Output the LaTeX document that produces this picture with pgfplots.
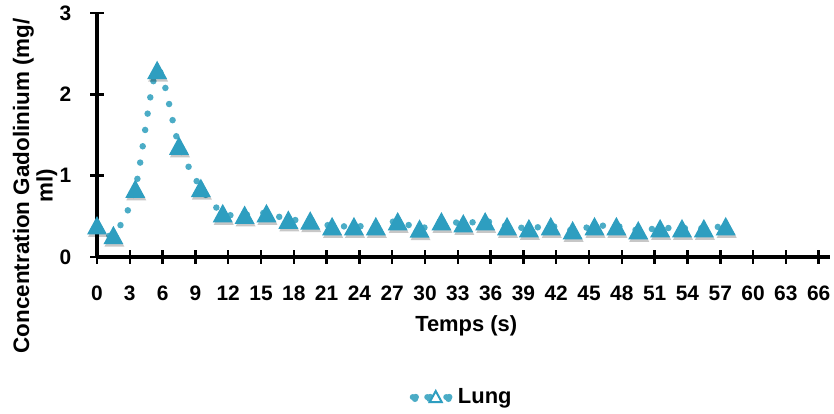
\documentclass[border=0pt]{standalone}
\usepackage{pgfplots}
\pgfplotsset{compat=1.18}
\usepackage{fontspec}
\setmainfont{Liberation Sans}
\definecolor{lungline}{RGB}{75,172,198}
\definecolor{lungmark}{RGB}{46,158,192}
\pgfdeclareplotmark{ctri}{%
  \pgfpathmoveto{\pgfqpoint{0pt}{0.8\pgfplotmarksize}}%
  \pgfpathlineto{\pgfqpoint{0.87\pgfplotmarksize}{-0.8\pgfplotmarksize}}%
  \pgfpathlineto{\pgfqpoint{-0.87\pgfplotmarksize}{-0.8\pgfplotmarksize}}%
  \pgfpathclose\pgfusepathqfill}
\pgfplotstableread{
x y
0 0.39
1.5 0.27
3.5 0.84
5.5 2.30
7.5 1.37
9.5 0.85
11.5 0.54
13.5 0.52
15.5 0.54
17.5 0.46
19.5 0.45
21.5 0.38
23.5 0.38
25.5 0.38
27.5 0.44
29.5 0.35
31.5 0.44
33.5 0.415
35.5 0.44
37.5 0.38
39.5 0.355
41.5 0.38
43.5 0.33
45.5 0.38
47.5 0.38
49.5 0.33
51.5 0.355
53.5 0.355
55.5 0.355
57.5 0.38
}\lung
\begin{document}
\begin{tikzpicture}
\useasboundingbox (0,0) rectangle (834bp,414bp);
\begin{axis}[
  at={(97bp,157bp)}, anchor=south west,
  scale only axis, width=732.6bp, height=244bp,
  xmin=0, xmax=67, ymin=0, ymax=3,
  axis x line*=bottom, axis y line*=left,
  axis line style={-, line width=3bp, black},
  xtick={0,3,...,66}, ytick={0,1,2,3},
  tick align=center, major tick length=13bp,
  tick style={line width=2.5bp, black},
  /pgf/number format/assume math mode=true,
  ticklabel style={font=\fontsize{21}{24}\selectfont\bfseries, inner sep=0pt},
  xticklabel style={anchor=center, yshift=-30bp},
  yticklabel style={anchor=east, xshift=-19bp},
  xlabel={Temps (s)},
  ylabel={Concentration Gadolinium (mg/\\ml)},
  xlabel style={at={(axis description cs:0.504,-0.282)}, anchor=center, font=\fontsize{22}{24}\selectfont\bfseries},
  every axis y label/.style={at={(axis description cs:-0.0845,0.292)}, anchor=center, rotate=90, align=center, font=\fontsize{22.5}{23.5}\selectfont\bfseries},
  clip=false,
  legend style={draw=none, at={(axis description cs:0.4955,-0.574)}, anchor=center, font=\fontsize{22}{24}\selectfont\bfseries},
  legend image code/.code={
    \fill[lungline] (0bp,0bp) circle (3bp);
    \fill[lungline] (14.5bp,0bp) circle (3bp);
    \fill[lungline] (33.5bp,0bp) circle (3bp);
    \draw[lungmark, solid, line width=2bp, fill=white] (23bp,6bp) -- (29bp,-5bp) -- (17bp,-5bp) -- cycle;
    \path (40bp,0bp);
  },
]
\addplot[lungline, line width=6.5bp, dash pattern=on 0pt off 16.5bp, line cap=round, smooth, tension=0.5, no marks] table[x=x,y=y] {\lung};
\addlegendentry{Lung}
\addplot[only marks, mark=ctri, mark size=11.5bp, mark options={fill=black, draw=none, opacity=0.22, xshift=1bp, yshift=-2.5bp}, forget plot] table[x=x,y=y] {\lung};
\addplot[only marks, mark=ctri, mark size=11.5bp, mark options={fill=lungmark, draw=none}, forget plot] table[x=x,y=y] {\lung};
\end{axis}
\end{tikzpicture}
\end{document}
